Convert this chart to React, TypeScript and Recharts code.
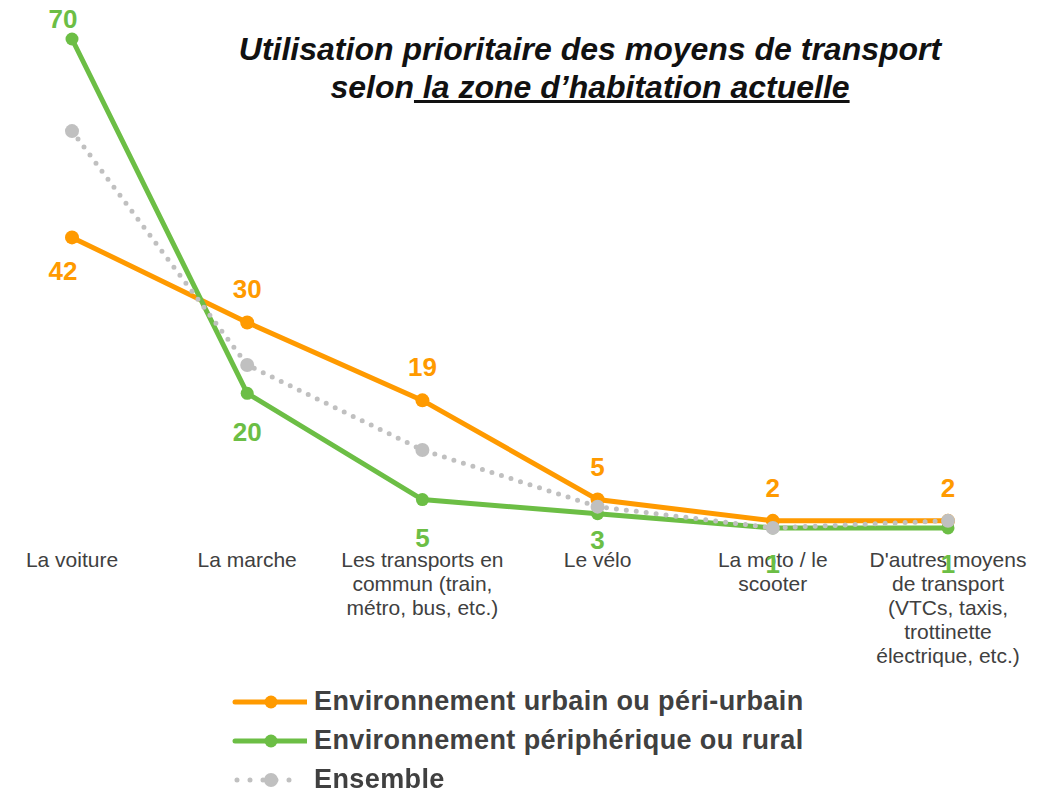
import { LineChart, Line, XAxis, YAxis, LabelList } from "recharts"

const categories = [
  ["La voiture"],
  ["La marche"],
  ["Les transports en", "commun (train,", "métro, bus, etc.)"],
  ["Le vélo"],
  ["La moto / le", "scooter"],
  ["D'autres moyens", "de transport", "(VTCs, taxis,", "trottinette", "électrique, etc.)"],
]
const urbain = [42, 30, 19, 5, 2, 2]
const rural = [70, 20, 5, 3, 1, 1]
const ensemble = [57, 24, 12, 4, 1, 2]

const seriesNames = [
  "Environnement urbain ou péri-urbain",
  "Environnement périphérique ou rural",
  "Ensemble",
]

const ORANGE = "#FF9A00"
const GREEN = "#6CBE45"
const GREY = "#C0C0C0"
const TEXT = "#404040"
const FONT = "'Liberation Sans', Arial, sans-serif"

const data = categories.map((c, i) => ({
  key: c.join(" "),
  urbain: urbain[i],
  rural: rural[i],
  ensemble: ensemble[i],
}))

// vertical offsets of value labels (text centre relative to the point)
const orangeDy = [34, -33, -33, -33, -33, -33]
const greenDy = [-20, 39, 38, 26, 36, 36]

function makeLabel(color: string, dys: number[]) {
  return (props: any) => {
    const { x, y, value, index } = props
    const dx = index === 0 ? -9 : 0
    return (
      <text
        x={x + dx}
        y={y + dys[index ?? 0]}
        textAnchor="middle"
        dominantBaseline="central"
        fill={color}
        fontSize={26}
        fontWeight="bold"
        fontFamily={FONT}
      >
        {value}
      </text>
    )
  }
}

function CategoryTick({ x, y, index }: any) {
  const lines = categories[index] ?? []
  return (
    <text x={x} y={y} textAnchor="middle" fill={TEXT} fontSize={21} fontFamily={FONT}>
      {lines.map((l, i) => (
        <tspan key={i} x={x} dy={24}>
          {l}
        </tspan>
      ))}
    </text>
  )
}

function LegendIcon({ color, dotted }: { color: string; dotted?: boolean }) {
  return (
    <svg width={75} height={20} style={{ display: "block" }}>
      {dotted ? (
        <line x1={5} y1={10} x2={70} y2={10} stroke={color} strokeWidth={5} strokeDasharray="0 13" strokeLinecap="round" />
      ) : (
        <line x1={3} y1={10} x2={75} y2={10} stroke={color} strokeWidth={5} strokeLinecap="round" />
      )}
      <circle cx={39} cy={10} r={dotted ? 7 : 6.5} fill={color} />
    </svg>
  )
}

export default function App() {
  const colors = [ORANGE, GREEN, GREY]
  return (
    <div style={{ position: "fixed", left: 0, top: 0, width: 1051, height: 792, background: "#fff", fontFamily: FONT }}>
      <div
        style={{
          position: "absolute",
          left: 190,
          top: 30,
          width: 800,
          textAlign: "center",
          fontFamily: "'Liberation Sans Narrow', 'Arial Narrow', " + FONT,
          fontStyle: "italic",
          fontWeight: "bold",
          fontSize: 32,
          lineHeight: "38px",
          color: "#111",
        }}
      >
        Utilisation prioritaire des moyens de transport
        <br />
        selon<span style={{ textDecoration: "underline" }}> la zone d’habitation actuelle</span>
      </div>

      <div style={{ position: "absolute", left: 0, top: 0 }}>
        <LineChart width={1051} height={792} data={data} margin={{ top: 39, right: 103, bottom: 227, left: 72 }}>
          <XAxis dataKey="key" axisLine={false} tickLine={false} height={30} tick={<CategoryTick />} interval={0} />
          <YAxis hide domain={[0, 70]} />
          <Line
            dataKey="urbain"
            stroke={ORANGE}
            strokeWidth={5}
            dot={{ r: 7, fill: ORANGE, stroke: ORANGE, strokeWidth: 0 }}
            isAnimationActive={false}
          >
            <LabelList dataKey="urbain" content={makeLabel(ORANGE, orangeDy)} />
          </Line>
          <Line
            dataKey="rural"
            stroke={GREEN}
            strokeWidth={5}
            dot={{ r: 6.5, fill: GREEN, stroke: GREEN, strokeWidth: 0 }}
            isAnimationActive={false}
          >
            <LabelList dataKey="rural" content={makeLabel(GREEN, greenDy)} />
          </Line>
          <Line
            dataKey="ensemble"
            stroke={GREY}
            strokeWidth={5}
            strokeDasharray="0 10"
            strokeLinecap="round"
            dot={{ r: 7, fill: GREY, stroke: GREY, strokeWidth: 0 }}
            isAnimationActive={false}
          />
        </LineChart>
      </div>

      <div style={{ position: "absolute", left: 232, top: 682 }}>
        {seriesNames.map((name, i) => (
          <div key={name} style={{ display: "flex", alignItems: "center", height: 39 }}>
            <LegendIcon color={colors[i]} dotted={i === 2} />
            <span style={{ marginLeft: 7, fontSize: 27, letterSpacing: 0.4, fontWeight: "bold", color: TEXT }}>{name}</span>
          </div>
        ))}
      </div>
    </div>
  )
}
